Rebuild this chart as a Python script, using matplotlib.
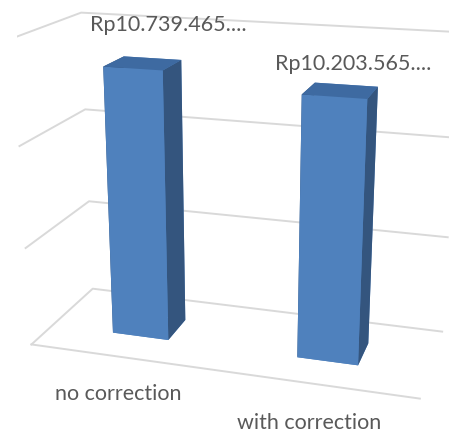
import numpy as np
import matplotlib.pyplot as plt

categories = ['no correction', 'with correction']
values = [10739465, 10203565]
value_labels = ['Rp10.739.465....', 'Rp10.203.565....']
z_ticks = [0, 4000000, 8000000, 12000000]

plt.rcParams['font.family'] = ['Lato', 'DejaVu Sans']

fig = plt.figure(figsize=(4.49, 4.32), dpi=100)
ax = fig.add_axes([0.02, 0.04, 1, 1], projection='3d')
ax.computed_zorder = False

x = np.arange(len(categories))
bw = 0.31
bd = 0.34
front_c = '#4f81bd'
side_c = '#34557e'
top_c = '#3e6aa1'
# bar3d face order: bottom, top, front, back, left, right
face_colors = [front_c, top_c, front_c, front_c, side_c, side_c] * len(x)
ax.bar3d(x - bw / 2, np.full(len(x), 0.5 - bd / 2), np.zeros(len(x)),
         bw, bd, values, color=face_colors, shade=False, zorder=3)

grid_c = '#d9d9d9'
x0, x1 = -0.5, len(categories) - 0.5
for z in z_ticks:
    ax.plot([x0, x0, x1], [0, 1, 1], [z, z, z], color=grid_c, lw=1.4, zorder=1)
ax.plot([x0, x1], [0, 0], [0, 0], color=grid_c, lw=1.4, zorder=1)

txt_c = '#595959'
label_dx = [0.14, 0.06]
label_lift = [1500000, 1000000]
for xi, v, s, dx, d in zip(x, values, value_labels, label_dx, label_lift):
    ax.text(xi + dx, 0.5, v + d, s, ha='center', va='center',
            color=txt_c, fontsize=15.5)
for xi, c in zip(x, categories):
    ax.text(xi - 0.025, 0, -1600000, c, ha='center', va='center',
            color=txt_c, fontsize=15.5)

ax.set_xlim(x0, x1)
ax.set_ylim(0, 1)
ax.set_zlim(0, z_ticks[-1])
ax.view_init(elev=18, azim=-73)
ax.set_proj_type('persp', focal_length=0.5)
ax.set_box_aspect((2.58, 1, 2.05), zoom=1.2)
ax.set_axis_off()

fig.savefig('out.png', dpi=100)
